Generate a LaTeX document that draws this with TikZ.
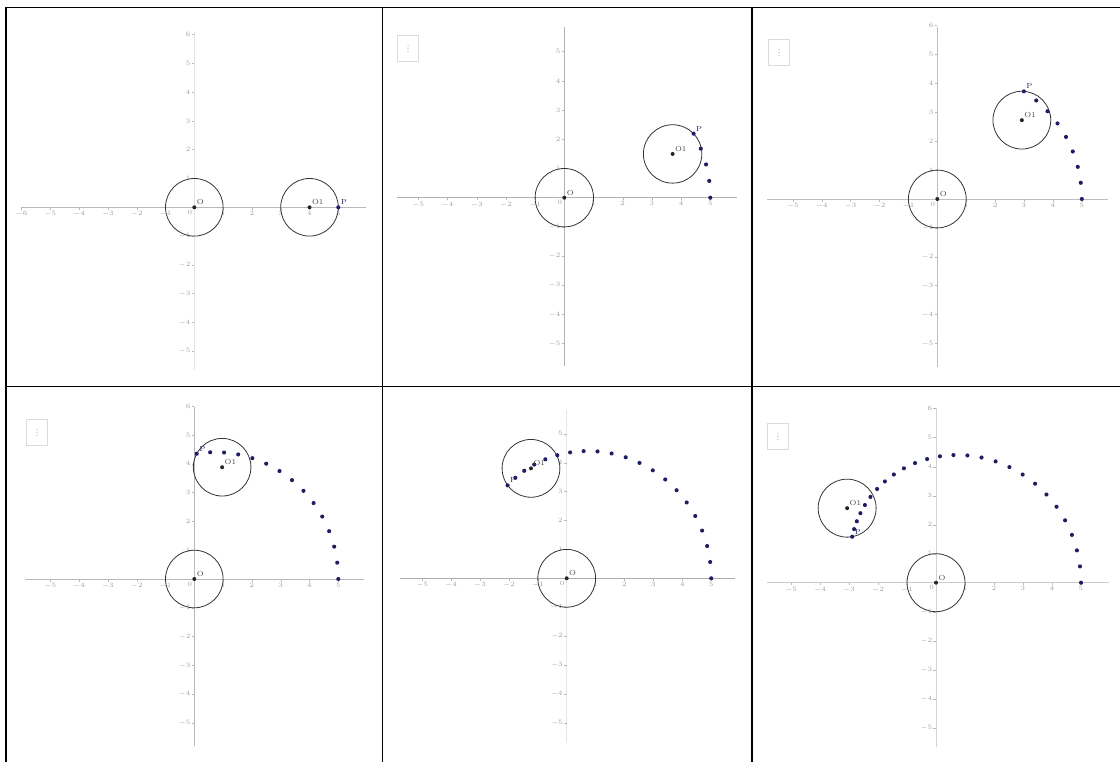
\documentclass[tikz,border=0pt]{standalone}
\definecolor{ggdot}{RGB}{30,30,100}
\tikzset{
  tblline/.style={line width=1.3pt,black},
  xax/.style={draw=gray!55},
  yax/.style={draw=gray!40},
  axisline/.style={line width=0.5pt},
  tickmark/.style={line width=0.3pt,draw=gray!55},
  ticklab/.style={font=\fontsize{4.5}{5}\selectfont,text=gray!75,inner sep=0.8pt},
  ring/.style={line width=0.6pt,draw=black!80},
  ctr/.style={circle,fill=black!85,inner sep=0pt,minimum size=3pt},
  trace/.style={circle,fill=ggdot,inner sep=0pt,minimum size=3.1pt},
  ptlab/.style={font=\fontsize{5.5}{6}\selectfont,text=black!75,inner sep=0.5pt,anchor=south west},
  plab/.style={ptlab,text=ggdot},
  menubtn/.style={draw=gray!28,line width=0.5pt,anchor=north west,minimum width=16pt,minimum height=19.5pt,inner sep=0pt},
  menudot/.style={circle,fill=gray!65,inner sep=0pt,minimum size=0.9pt},
}
\newcommand\ggmenu[2]{%
  \node[menubtn] (menu#1) at (#2) {};
  \node[menudot] (menu#1a) at ([yshift=2.2pt]menu#1.center) {};
  \node[menudot] (menu#1b) at (menu#1.center) {};
  \node[menudot] (menu#1c) at ([yshift=-2.2pt]menu#1.center) {};
}
\newcommand\ggaxes[8]{%
  \draw[axisline,xax] (#1,0) -- (#2,0);
  \draw[axisline,yax] (0,#3) -- (0,#4);
  \foreach \i in {#5,...,#6}{\ifnum\i=0\relax\else
    \draw[tickmark] (\i,0) -- (\i,-0.09);
    \node[ticklab,anchor=north] (xt\i) at (\i,-0.09) {$\i$};\fi}
  \foreach \j in {#7,...,#8}{\ifnum\j=0\relax\else
    \draw[tickmark] (0,\j) -- (-0.09,\j);
    \node[ticklab,anchor=east] (yt\j) at (-0.09,\j) {$\j$};\fi}
  \node[ticklab,anchor=north east] (zero) at (-0.03,-0.05) {$0$};
}
\newcommand\ggscene[3]{%
  \coordinate (c#1) at ({4*cos(#2*#3)},{4*sin(#2*#3)});
  \draw[ring] (0,0) circle (1);
  \draw[ring] (c#1) circle (1);
  \foreach \k in {0,...,#2}{\node[trace] (t#1k\k) at ({4*cos(\k*#3)+cos(2*\k*#3)},{4*sin(\k*#3)+sin(2*\k*#3)}) {};}
  \node[ctr] (O#1) at (0,0) {};
  \node[ctr] (Q#1) at (c#1) {};
  \node[ptlab] (Olab#1) at (O#1.north east) {O};
  \node[ptlab] (Qlab#1) at (Q#1.north east) {O1};
  \node[plab] (Plab#1) at (t#1k#2.north east) {P};
}
\begin{document}
\begin{tikzpicture}[x=0.75pt,y=-0.75pt]
\useasboundingbox (0,0) rectangle (1120,762);
% table
\draw[tblline] (6,762) -- (6,7.5) -- (1120,7.5);
\draw[tblline] (382.5,7.5) -- (382.5,762);
\draw[tblline] (752,7.5) -- (752,762);
\draw[tblline] (6,386.5) -- (1120,386.5);
% panel 1
\begin{scope}[shift={(194.3,207.3)},x=21.6pt,y=21.6pt,xax/.style={draw=gray!55},yax/.style={draw=gray!22}]
  \ggaxes{-6.03}{5.96}{-5.65}{6.1}{-6}{5}{-5}{6}
  \ggscene{1}{0}{5}
\end{scope}
% panel 2
\ggmenu{2}{397,35}
\begin{scope}[shift={(564.3,197.7)},x=21.9pt,y=21.9pt,xax/.style={draw=gray!60},yax/.style={draw=gray!60}]
  \ggaxes{-5.72}{5.9}{-5.76}{5.86}{-5}{5}{-5}{5}
  \ggscene{2}{4}{5.5}
\end{scope}
% panel 3
\ggmenu{3}{768,39}
\begin{scope}[shift={(937.3,199)},x=21.675pt,y=21.675pt,xax/.style={draw=gray!50},yax/.style={draw=gray!50}]
  \ggaxes{-5.9}{5.9}{-5.8}{5.96}{-5}{5}{-5}{6}
  \ggscene{3}{8}{5.375}
\end{scope}
% panel 4
\ggmenu{4}{26,419}
\begin{scope}[shift={(194.3,579)},x=21.6pt,y=21.6pt,xax/.style={draw=gray!55},yax/.style={draw=gray!55}]
  \ggaxes{-5.88}{5.89}{-5.8}{5.97}{-5}{5}{-5}{6}
  \ggscene{4}{14}{5.43}
\end{scope}
% panel 5
\begin{scope}[shift={(566.7,578.3)},x=21.675pt,y=21.675pt,xax/.style={draw=gray!65},yax/.style={draw=gray!20}]
  \ggaxes{-5.77}{5.82}{-5.7}{5.82}{-5}{5}{-5}{5}
  \ggscene{5}{20}{5.4}
\end{scope}
% panel 6
\ggmenu{6}{767,423}
\begin{scope}[shift={(936,582.7)},x=21.75pt,y=21.75pt,xax/.style={draw=gray!40},yax/.style={draw=gray!35}]
  \ggaxes{-5.84}{5.97}{-5.67}{6.02}{-5}{5}{-5}{6}
  \ggscene{6}{26}{5.385}
\end{scope}
\end{tikzpicture}
\end{document}
